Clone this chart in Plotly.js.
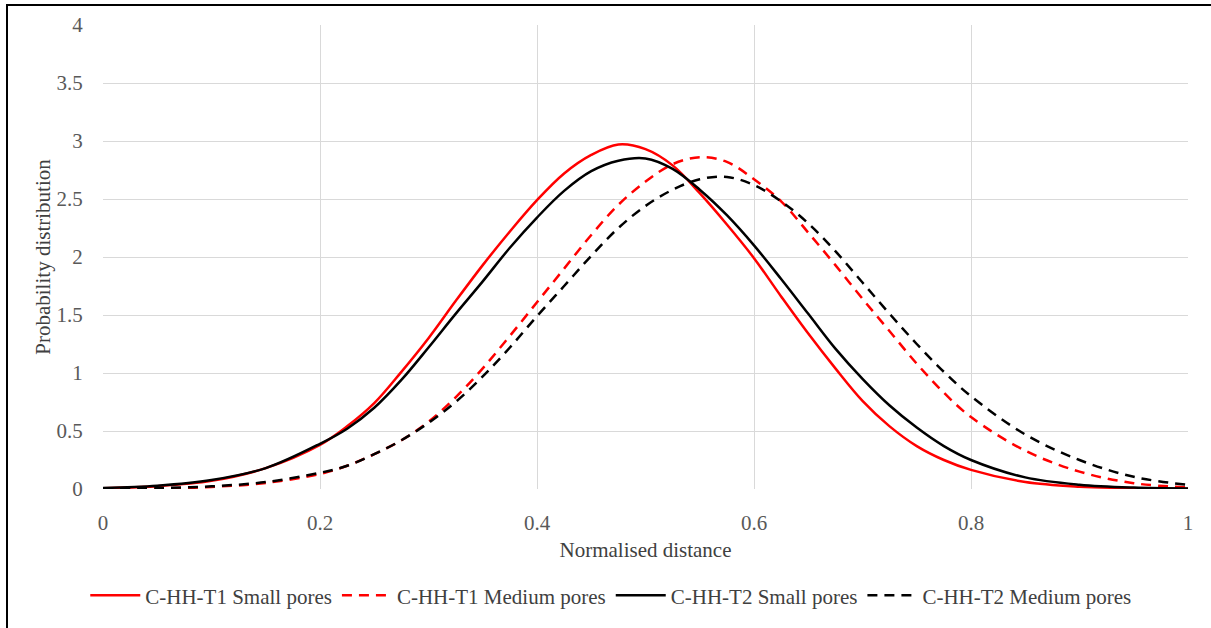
<!DOCTYPE html>
<html>
<head>
<meta charset="utf-8">
<script src="https://cdn.plot.ly/plotly-3.0.1.min.js"></script>
<style>
  html, body { margin: 0; padding: 0; background: #fff; overflow: hidden; }
  #chart { width: 1211px; height: 628px; }
  #frame { position: absolute; left: 6px; top: 4px; width: 1400px; height: 800px;
           border-left: 2px solid #000; border-top: 2px solid #000; pointer-events: none; }
</style>
</head>
<body>
<div id="chart"></div>
<div id="frame"></div>
<script>
// Normalised distance (x) sample points
const xVals = [0, 0.05, 0.1, 0.15, 0.2, 0.225, 0.25, 0.275, 0.3, 0.325, 0.35, 0.375, 0.4, 0.425, 0.45, 0.475,
               0.5, 0.525, 0.55, 0.575, 0.6, 0.625, 0.65, 0.675, 0.7, 0.725, 0.75, 0.775, 0.8, 0.85, 0.9, 0.95, 1];

// Series values
const t1Small  = [0.007, 0.024, 0.07, 0.18, 0.38, 0.54, 0.74, 1.01, 1.30, 1.62, 1.93, 2.22, 2.49, 2.72, 2.88, 2.97,
                  2.93, 2.79, 2.55, 2.28, 1.99, 1.66, 1.34, 1.04, 0.76, 0.54, 0.37, 0.25, 0.165, 0.06, 0.02, 0.007, 0.002];
const t1Medium = [0.001, 0.004, 0.018, 0.052, 0.13, 0.20, 0.30, 0.42, 0.58, 0.79, 1.04, 1.32, 1.61, 1.90, 2.19, 2.45,
                  2.65, 2.80, 2.86, 2.82, 2.67, 2.48, 2.21, 1.93, 1.64, 1.36, 1.08, 0.83, 0.62, 0.33, 0.15, 0.05, 0.015];
const t2Small  = [0.009, 0.028, 0.077, 0.18, 0.39, 0.52, 0.70, 0.94, 1.22, 1.51, 1.79, 2.08, 2.34, 2.57, 2.74, 2.83,
                  2.85, 2.76, 2.58, 2.36, 2.10, 1.81, 1.51, 1.21, 0.95, 0.72, 0.53, 0.37, 0.25, 0.10, 0.037, 0.012, 0.004];
const t2Medium = [0.002, 0.008, 0.023, 0.06, 0.14, 0.20, 0.30, 0.42, 0.57, 0.75, 0.97, 1.22, 1.49, 1.75, 2.01, 2.25,
                  2.44, 2.58, 2.67, 2.69, 2.62, 2.48, 2.29, 2.05, 1.78, 1.51, 1.25, 1.01, 0.80, 0.47, 0.25, 0.105, 0.035];

const seriesNames = ["C-HH-T1 Small pores", "C-HH-T1 Medium pores", "C-HH-T2 Small pores", "C-HH-T2 Medium pores"];

const xTickVals = [0, 0.2, 0.4, 0.6, 0.8, 1];
const xTickText = ["0", "0.2", "0.4", "0.6", "0.8", "1"];
const yTickVals = [0, 0.5, 1, 1.5, 2, 2.5, 3, 3.5, 4];
const yTickText = ["0", "0.5", "1", "1.5", "2", "2.5", "3", "3.5", "4"];

const RED = "#ff0000";
const BLACK = "#000000";
const DASH = "10px,7px";

function trace(y, name, color, dash) {
  return {
    x: xVals, y: y, name: name, type: "scatter", mode: "lines",
    line: { color: color, width: 2.5, dash: dash, shape: "spline", smoothing: 1 },
    hoverinfo: "skip"
  };
}

const data = [
  trace(t1Small,  seriesNames[0], RED,   "solid"),
  trace(t1Medium, seriesNames[1], RED,   DASH),
  trace(t2Small,  seriesNames[2], BLACK, "solid"),
  trace(t2Medium, seriesNames[3], BLACK, DASH)
];

const FONT = "Liberation Serif, Times New Roman, serif";
const FS = 21;

const layout = {
  width: 1211, height: 628,
  margin: { l: 103, r: 23, t: 25, b: 133 },
  paper_bgcolor: "#ffffff", plot_bgcolor: "#ffffff",
  font: { family: FONT, size: FS, color: "#404040" },
  showlegend: true,
  legend: {
    orientation: "h", x: 0.468, xanchor: "center", y: -0.23, yanchor: "middle",
    font: { family: FONT, size: FS, color: "#404040" },
    itemwidth: 50, tracegroupgap: 0
  },
  xaxis: {
    range: [0, 1], tickvals: xTickVals, ticktext: xTickText,
    showgrid: true, gridcolor: "#d9d9d9", gridwidth: 1,
    zeroline: false, showline: false,
    ticks: "outside", ticklen: 15, tickcolor: "rgba(0,0,0,0)",
    tickfont: { family: FONT, size: FS, color: "#595959" },
    title: { text: "Normalised distance", font: { family: FONT, size: FS, color: "#404040" }, standoff: 8 }
  },
  yaxis: {
    range: [0, 4], tickvals: yTickVals, ticktext: yTickText,
    showgrid: true, gridcolor: "#d9d9d9", gridwidth: 1,
    zeroline: false, showline: false,
    ticks: "outside", ticklen: 15, tickcolor: "rgba(0,0,0,0)",
    tickfont: { family: FONT, size: FS, color: "#595959" },
    title: { text: "Probability distribution", font: { family: FONT, size: FS, color: "#404040" } }
  }
};

Plotly.newPlot("chart", data, layout, { staticPlot: true, displayModeBar: false });
</script>
</body>
</html>
